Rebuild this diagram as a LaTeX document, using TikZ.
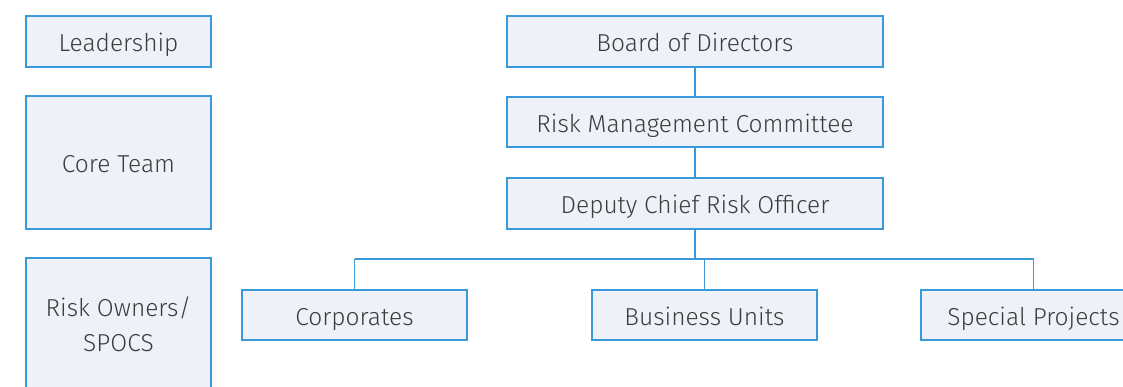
\documentclass[tikz,border=0pt]{standalone}
\usepackage{fontspec}
\setmainfont{Fira Sans}[UprightFont=* Light]
\definecolor{boxfill}{HTML}{EEF2F8}
\definecolor{boxline}{HTML}{3A9AD9}
\definecolor{txt}{HTML}{3C3C3C}
\begin{document}
\begin{tikzpicture}[x=1pt,y=-1pt,
  orgbox/.style={draw=boxline, fill=boxfill, line width=1.5pt, text=txt,
    font=\fontsize{24.5}{35}\selectfont, inner sep=0pt,
    minimum width=#1},
  orgbox/.default=185pt,
  oneline/.style={text height=22pt, text depth=1pt},
  link/.style={draw=boxline, line width=1.7pt}]
\useasboundingbox (0,0) rectangle (1123,387);
\clip (0,0) rectangle (1123,387);
% left column
\node[orgbox=185pt, oneline, minimum height=51pt] (lead) at (118.5,41.5) {Leadership};
\node[orgbox=185pt, oneline, minimum height=133pt] (core) at (118.5,162.5) {Core Team};
\node[orgbox=185pt, align=center, minimum height=133pt] (own) at (118.5,324.5) {Risk Owners/\\SPOCS};
% main chain
\node[orgbox=376pt, oneline, minimum height=51pt] (board) at (695,41.5) {Board of Directors};
\node[orgbox=376pt, oneline, minimum height=50pt] (rmc) at (695,122) {Risk Management Committee};
\node[orgbox=376pt, oneline, minimum height=51pt] (dcro) at (695,203.5) {Deputy Chief Risk Officer};
% bottom row
\node[orgbox=225pt, oneline, minimum height=50pt] (corp) at (354.5,315) {Corporates};
\node[orgbox=225pt, oneline, minimum height=50pt] (bu) at (704.5,315) {Business Units};
\node[orgbox=225pt, oneline, minimum height=50pt] (sp) at (1033.5,315) {Special Projects};
% connectors
\coordinate (bus) at (695,259);
\draw[link] (board.south) -- (rmc.north);
\draw[link] (rmc.south) -- (dcro.north);
\draw[link] (dcro.south) -- (bus);
\draw[link] (corp.north |- bus) -- (sp.north |- bus);
\draw[link] (corp.north |- bus) -- (corp.north);
\draw[link] (bu.north |- bus) -- (bu.north);
\draw[link] (sp.north |- bus) -- (sp.north);
\end{tikzpicture}
\end{document}
